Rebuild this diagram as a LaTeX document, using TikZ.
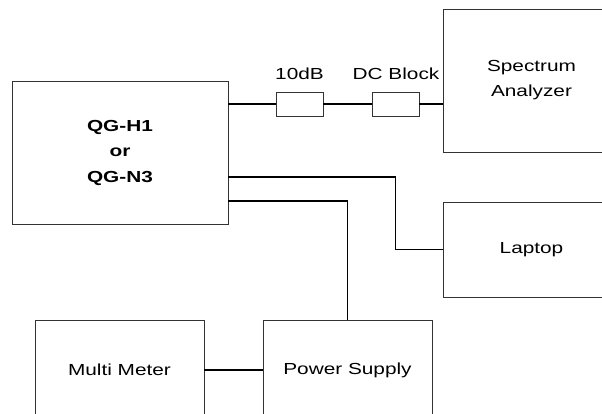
\documentclass[tikz,border=0pt]{standalone}
\usepackage{fontspec}
\setmainfont{Liberation Sans}[FakeStretch=1.3]
\begin{document}
\begin{tikzpicture}[x=1pt,y=-1pt,
  unit/.style={draw=black!80,line width=0.8pt,inner sep=0pt,align=center,font=\fontsize{16}{25}\selectfont},
  pad/.style={draw=black!80,line width=0.8pt,minimum width=47pt,minimum height=24pt,inner sep=0pt},
  wire/.style={line width=1.6pt}]
\useasboundingbox (0,0) rectangle (602,413);
\clip (0,0) rectangle (602,413);

\node[unit,minimum width=216pt,minimum height=143pt,font=\bfseries\fontsize{16}{25.5}\selectfont] (qg) at (120,152.5) {QG-H1\\or\\QG-N3};
\node[unit,minimum width=177pt,minimum height=143pt] (analyzer) at (531.5,80.5) {Spectrum\\Analyzer};
\node[unit,minimum width=177pt,minimum height=95pt] (laptop) at (531.5,249.5) {Laptop};
\node[unit,minimum width=169pt,minimum height=100pt] (meter) at (119.5,370) {Multi Meter};
\node[unit,minimum width=169pt,minimum height=100pt] (supply) at (347.5,370) {Power Supply};

\node[pad] (atten) at (299.5,104) {};
\node[pad] (dcblock) at (395.5,104) {};
\node[font=\fontsize{16}{19}\selectfont] (attenlbl) at (299.5,74) {10dB};
\node[font=\fontsize{16}{19}\selectfont] (dclbl) at (396,74) {DC Block};

\draw[line width=1.2pt] ([yshift=48.5pt]qg.east) -- (atten.west);
\draw[line width=1.2pt] (atten.east) -- (dcblock.west);
\draw[line width=1.2pt] (dcblock.east) -- (dcblock.east -| analyzer.west);
\draw[wire] ([yshift=-24.5pt]qg.east) -| ([xshift=-47pt]laptop.west) -- (laptop.west);
\draw[wire] ([yshift=-48.5pt]qg.east) -| (supply.north);
\draw[wire] (meter.east) -- (supply.west);
\end{tikzpicture}
\end{document}
